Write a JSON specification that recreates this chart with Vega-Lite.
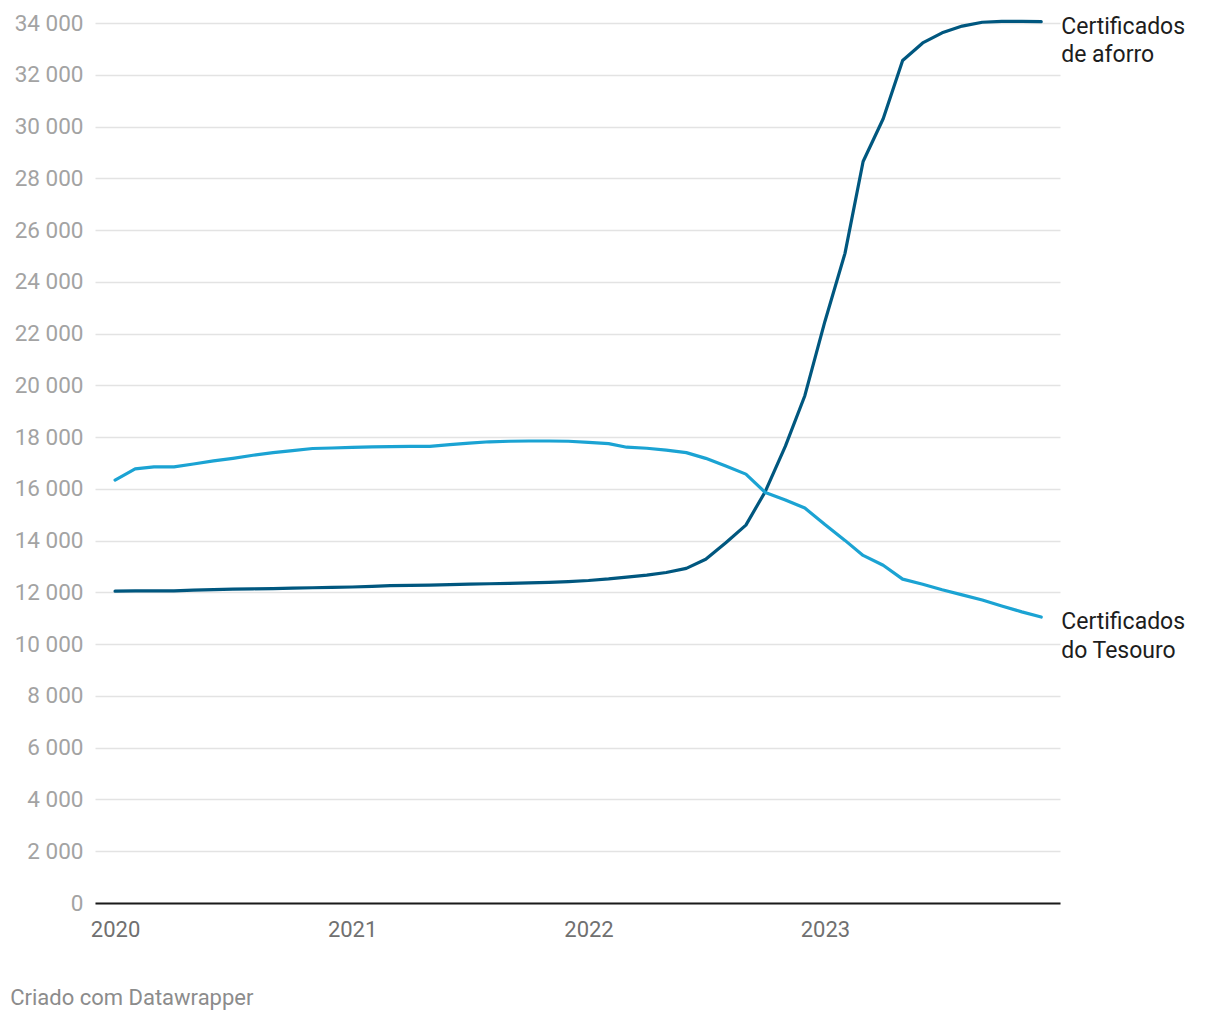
{
  "$schema": "https://vega.github.io/schema/vega-lite/v6.json",
  "autosize": {"type": "none"},
  "width": 965,
  "height": 880,
  "padding": {"left": 95, "top": 23, "right": 160, "bottom": 117},
  "background": "white",
  "config": {
    "font": "Roboto",
    "view": {"stroke": null}
  },
  "title": {
    "text": "Criado com Datawrapper",
    "orient": "bottom",
    "anchor": "start",
    "dx": -4,
    "offset": 48,
    "fontSize": 22,
    "fontWeight": "normal",
    "color": "#8c8c8c",
    "font": "Roboto"
  },
  "data": {
    "values": [
      {"date":"2020-01-01","series":"Certificados de aforro","value":12050},
      {"date":"2020-02-01","series":"Certificados de aforro","value":12060},
      {"date":"2020-03-01","series":"Certificados de aforro","value":12060},
      {"date":"2020-04-01","series":"Certificados de aforro","value":12060},
      {"date":"2020-05-01","series":"Certificados de aforro","value":12090},
      {"date":"2020-06-01","series":"Certificados de aforro","value":12110},
      {"date":"2020-07-01","series":"Certificados de aforro","value":12130},
      {"date":"2020-08-01","series":"Certificados de aforro","value":12140},
      {"date":"2020-09-01","series":"Certificados de aforro","value":12150},
      {"date":"2020-10-01","series":"Certificados de aforro","value":12165},
      {"date":"2020-11-01","series":"Certificados de aforro","value":12180},
      {"date":"2020-12-01","series":"Certificados de aforro","value":12195},
      {"date":"2021-01-01","series":"Certificados de aforro","value":12210},
      {"date":"2021-02-01","series":"Certificados de aforro","value":12230},
      {"date":"2021-03-01","series":"Certificados de aforro","value":12260},
      {"date":"2021-04-01","series":"Certificados de aforro","value":12275},
      {"date":"2021-05-01","series":"Certificados de aforro","value":12285},
      {"date":"2021-06-01","series":"Certificados de aforro","value":12300},
      {"date":"2021-07-01","series":"Certificados de aforro","value":12320},
      {"date":"2021-08-01","series":"Certificados de aforro","value":12335},
      {"date":"2021-09-01","series":"Certificados de aforro","value":12350},
      {"date":"2021-10-01","series":"Certificados de aforro","value":12370},
      {"date":"2021-11-01","series":"Certificados de aforro","value":12390},
      {"date":"2021-12-01","series":"Certificados de aforro","value":12420},
      {"date":"2022-01-01","series":"Certificados de aforro","value":12460},
      {"date":"2022-02-01","series":"Certificados de aforro","value":12520},
      {"date":"2022-03-01","series":"Certificados de aforro","value":12590},
      {"date":"2022-04-01","series":"Certificados de aforro","value":12670},
      {"date":"2022-05-01","series":"Certificados de aforro","value":12770},
      {"date":"2022-06-01","series":"Certificados de aforro","value":12930},
      {"date":"2022-07-01","series":"Certificados de aforro","value":13280},
      {"date":"2022-08-01","series":"Certificados de aforro","value":13920},
      {"date":"2022-09-01","series":"Certificados de aforro","value":14600},
      {"date":"2022-10-01","series":"Certificados de aforro","value":15900},
      {"date":"2022-11-01","series":"Certificados de aforro","value":17650},
      {"date":"2022-12-01","series":"Certificados de aforro","value":19600},
      {"date":"2023-01-01","series":"Certificados de aforro","value":22470},
      {"date":"2023-02-01","series":"Certificados de aforro","value":25100},
      {"date":"2023-03-01","series":"Certificados de aforro","value":28650},
      {"date":"2023-04-01","series":"Certificados de aforro","value":30300},
      {"date":"2023-05-01","series":"Certificados de aforro","value":32550},
      {"date":"2023-06-01","series":"Certificados de aforro","value":33230},
      {"date":"2023-07-01","series":"Certificados de aforro","value":33620},
      {"date":"2023-08-01","series":"Certificados de aforro","value":33880},
      {"date":"2023-09-01","series":"Certificados de aforro","value":34030},
      {"date":"2023-10-01","series":"Certificados de aforro","value":34060},
      {"date":"2023-11-01","series":"Certificados de aforro","value":34060},
      {"date":"2023-12-01","series":"Certificados de aforro","value":34050},
      {"date":"2020-01-01","series":"Certificados do Tesouro","value":16340},
      {"date":"2020-02-01","series":"Certificados do Tesouro","value":16770},
      {"date":"2020-03-01","series":"Certificados do Tesouro","value":16850},
      {"date":"2020-04-01","series":"Certificados do Tesouro","value":16850},
      {"date":"2020-05-01","series":"Certificados do Tesouro","value":16960},
      {"date":"2020-06-01","series":"Certificados do Tesouro","value":17080},
      {"date":"2020-07-01","series":"Certificados do Tesouro","value":17180},
      {"date":"2020-08-01","series":"Certificados do Tesouro","value":17300},
      {"date":"2020-09-01","series":"Certificados do Tesouro","value":17400},
      {"date":"2020-10-01","series":"Certificados do Tesouro","value":17480},
      {"date":"2020-11-01","series":"Certificados do Tesouro","value":17560},
      {"date":"2020-12-01","series":"Certificados do Tesouro","value":17580},
      {"date":"2021-01-01","series":"Certificados do Tesouro","value":17600},
      {"date":"2021-02-01","series":"Certificados do Tesouro","value":17620},
      {"date":"2021-03-01","series":"Certificados do Tesouro","value":17630},
      {"date":"2021-04-01","series":"Certificados do Tesouro","value":17640},
      {"date":"2021-05-01","series":"Certificados do Tesouro","value":17640},
      {"date":"2021-06-01","series":"Certificados do Tesouro","value":17710},
      {"date":"2021-07-01","series":"Certificados do Tesouro","value":17770},
      {"date":"2021-08-01","series":"Certificados do Tesouro","value":17820},
      {"date":"2021-09-01","series":"Certificados do Tesouro","value":17840},
      {"date":"2021-10-01","series":"Certificados do Tesouro","value":17850},
      {"date":"2021-11-01","series":"Certificados do Tesouro","value":17850},
      {"date":"2021-12-01","series":"Certificados do Tesouro","value":17840},
      {"date":"2022-01-01","series":"Certificados do Tesouro","value":17800},
      {"date":"2022-02-01","series":"Certificados do Tesouro","value":17750},
      {"date":"2022-03-01","series":"Certificados do Tesouro","value":17610},
      {"date":"2022-04-01","series":"Certificados do Tesouro","value":17570},
      {"date":"2022-05-01","series":"Certificados do Tesouro","value":17500},
      {"date":"2022-06-01","series":"Certificados do Tesouro","value":17400},
      {"date":"2022-07-01","series":"Certificados do Tesouro","value":17180},
      {"date":"2022-08-01","series":"Certificados do Tesouro","value":16880},
      {"date":"2022-09-01","series":"Certificados do Tesouro","value":16570},
      {"date":"2022-10-01","series":"Certificados do Tesouro","value":15860},
      {"date":"2022-11-01","series":"Certificados do Tesouro","value":15570},
      {"date":"2022-12-01","series":"Certificados do Tesouro","value":15260},
      {"date":"2023-01-01","series":"Certificados do Tesouro","value":14620},
      {"date":"2023-02-01","series":"Certificados do Tesouro","value":14010},
      {"date":"2023-03-01","series":"Certificados do Tesouro","value":13430},
      {"date":"2023-04-01","series":"Certificados do Tesouro","value":13050},
      {"date":"2023-05-01","series":"Certificados do Tesouro","value":12515},
      {"date":"2023-06-01","series":"Certificados do Tesouro","value":12317},
      {"date":"2023-07-01","series":"Certificados do Tesouro","value":12103},
      {"date":"2023-08-01","series":"Certificados do Tesouro","value":11904},
      {"date":"2023-09-01","series":"Certificados do Tesouro","value":11706},
      {"date":"2023-10-01","series":"Certificados do Tesouro","value":11477},
      {"date":"2023-11-01","series":"Certificados do Tesouro","value":11248},
      {"date":"2023-12-01","series":"Certificados do Tesouro","value":11050}
    ]
  },
  "encoding": {
    "x": {
      "field": "date",
      "type": "temporal",
      "scale": {
        "type": "utc",
        "domain": [
          {"year": 2019, "month": 12, "date": 1, "utc": true},
          {"year": 2023, "month": 12, "date": 30, "utc": true}
        ]
      },
      "axis": {
        "title": null,
        "values": [
          {"year": 2020, "month": 1, "date": 1, "utc": true},
          {"year": 2021, "month": 1, "date": 1, "utc": true},
          {"year": 2022, "month": 1, "date": 1, "utc": true},
          {"year": 2023, "month": 1, "date": 1, "utc": true}
        ],
        "format": "%Y",
        "formatType": "utc",
        "grid": false,
        "ticks": false,
        "domain": true,
        "domainColor": "#1a1a1a",
        "domainWidth": 2,
        "labelColor": "#707070",
        "labelFontSize": 22,
        "labelFont": "Roboto",
        "labelPadding": 16,
        "labelFlush": false
      }
    },
    "y": {
      "field": "value",
      "type": "quantitative",
      "scale": {"domain": [0, 34000], "nice": false, "zero": true},
      "axis": {
        "title": null,
        "values": [0,2000,4000,6000,8000,10000,12000,14000,16000,18000,20000,22000,24000,26000,28000,30000,32000,34000],
        "labelExpr": "replace(format(datum.value, ','), ',', ' ')",
        "domain": false,
        "ticks": false,
        "grid": true,
        "gridColor": "#e3e3e3",
        "gridWidth": 1.3,
        "labelColor": "#a3a3a3",
        "labelFontSize": 22.5,
        "labelFont": "Roboto",
        "labelPadding": 12
      }
    },
    "color": {
      "field": "series",
      "type": "nominal",
      "scale": {"domain": ["Certificados de aforro", "Certificados do Tesouro"], "range": ["#00577f", "#1ba3d3"]},
      "legend": null
    }
  },
  "layer": [
    {
      "mark": {"type": "line", "strokeWidth": 3.2, "strokeCap": "round", "strokeJoin": "round"}
    },
    {
      "transform": [
        {"filter": "utcyear(datum.date) == 2023 && utcmonth(datum.date) == 11"},
        {"calculate": "replace(datum.series, 'Certificados ', 'Certificados\\n')", "as": "label"}
      ],
      "mark": {
        "type": "text",
        "align": "left",
        "baseline": "alphabetic",
        "dx": 20,
        "dy": 12,
        "fontSize": 23,
        "font": "Roboto",
        "lineBreak": "\n",
        "lineHeight": 28.5,
        "color": "#1d1d1d"
      },
      "encoding": {
        "text": {"field": "label"},
        "color": {"value": "#1d1d1d"}
      }
    }
  ]
}
